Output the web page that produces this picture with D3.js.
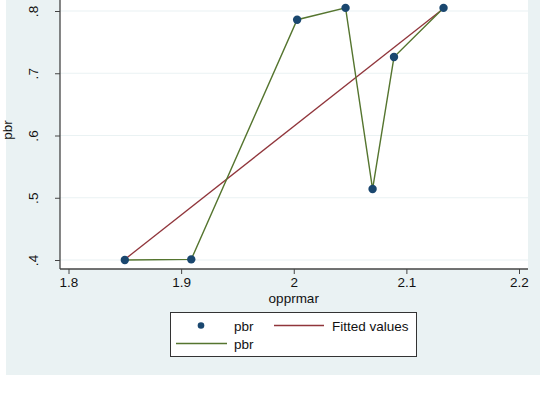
<!DOCTYPE html>
<html><head><meta charset="utf-8">
<script src="https://cdn.jsdelivr.net/npm/d3@7/dist/d3.min.js"></script>
<style>body{margin:0;background:#fff}svg{display:block}text{font-family:"Liberation Sans",Arial,sans-serif}</style>
</head><body>
<svg id="c" width="540" height="401"></svg>
<script>
const oppr = [1.850, 1.909, 2.003, 2.046, 2.070, 2.089, 2.133];
const pbr  = [0.400, 0.401, 0.786, 0.805, 0.514, 0.726, 0.805];
const fitX = [1.850, 2.133];
const fitY = [0.401, 0.804];
const xTicks = [1.8, 1.9, 2.0, 2.1, 2.2];
const xTickLabels = ["1.8", "1.9", "2", "2.1", "2.2"];
const yTicks = [0.4, 0.5, 0.6, 0.7, 0.8];
const yTickLabels = [".4", ".5", ".6", ".7", ".8"];
const legendLabels = ["pbr", "Fitted values", "pbr"];

const svg = d3.select("#c");
const bg = "#eaf2f3", navy = "#1a476f", red = "#90353b", green = "#55752f";
svg.append("rect").attr("x", 6).attr("y", 0).attr("width", 534).attr("height", 375).attr("fill", bg);

const L = 60, R = 528, T = 0, B = 269;
svg.append("rect").attr("x", L).attr("y", T).attr("width", R - L).attr("height", B - T).attr("fill", "#fff");

const x = d3.scaleLinear().domain([1.8, 2.2]).range([68.5, 519]);
const y = d3.scaleLinear().domain([0.4, 0.8]).range([260, 11]);

// grid
svg.append("g").selectAll("line").data(yTicks).join("line")
  .attr("x1", L).attr("x2", R).attr("y1", d => y(d)).attr("y2", d => y(d))
  .attr("stroke", bg).attr("stroke-width", 1.2);

// axes
const xa = svg.append("g").attr("transform", `translate(0,${B})`)
  .call(d3.axisBottom(x).tickValues(xTicks).tickFormat((d, i) => xTickLabels[i]).tickSize(5).tickSizeOuter(0).tickPadding(3));
xa.select(".domain").attr("d", `M${L},0H${R}`).attr("stroke", "#444").attr("stroke-width", 1.3);
xa.selectAll(".tick line").attr("stroke", "#444");
xa.selectAll("text").attr("font-size", 13.5).attr("fill", "#111").attr("font-family", "Liberation Sans, Arial, sans-serif");

const ya = svg.append("g").attr("transform", `translate(${L},0)`)
  .call(d3.axisLeft(y).tickValues(yTicks).tickFormat((d, i) => yTickLabels[i]).tickSize(5).tickSizeOuter(0));
ya.select(".domain").attr("d", `M0,${T}V${B}`).attr("stroke", "#444").attr("stroke-width", 1.3);
ya.selectAll(".tick line").attr("stroke", "#444");
ya.selectAll(".tick text").attr("font-size", 13.5).attr("fill", "#111")
  .attr("font-family", "Liberation Sans, Arial, sans-serif")
  .attr("x", 0).attr("dy", 0).attr("text-anchor", "middle")
  .attr("transform", "translate(-26,0) rotate(-90)").attr("dominant-baseline", "middle");

svg.append("text").attr("x", x(2.0)).attr("y", 303).attr("text-anchor", "middle")
  .attr("font-size", 13.5).attr("fill", "#111").text("opprmar");
svg.append("text").attr("transform", "translate(12,130) rotate(-90)").attr("text-anchor", "middle")
  .attr("font-size", 13.5).attr("fill", "#111").text("pbr");

// fitted line
svg.append("path").datum(fitX.map((d, i) => [d, fitY[i]]))
  .attr("d", d3.line().x(d => x(d[0])).y(d => y(d[1])))
  .attr("fill", "none").attr("stroke", red).attr("stroke-width", 1.3);
// connected line
svg.append("path").datum(oppr.map((d, i) => [d, pbr[i]]))
  .attr("d", d3.line().x(d => x(d[0])).y(d => y(d[1])))
  .attr("fill", "none").attr("stroke", green).attr("stroke-width", 1.4);
// points
svg.append("g").selectAll("circle").data(oppr.map((d, i) => [d, pbr[i]])).join("circle")
  .attr("cx", d => x(d[0])).attr("cy", d => y(d[1])).attr("r", 4.2).attr("fill", navy);

// legend
const lg = svg.append("g");
lg.append("rect").attr("x", 170.5).attr("y", 312.5).attr("width", 246).attr("height", 44)
  .attr("fill", "#fff").attr("stroke", "#333").attr("stroke-width", 1);
lg.append("circle").attr("cx", 201).attr("cy", 325.5).attr("r", 3.3).attr("fill", navy);
lg.append("text").attr("x", 234).attr("y", 330.5).attr("font-size", 13.5).attr("fill", "#111").text(legendLabels[0]);
lg.append("line").attr("x1", 274).attr("x2", 324).attr("y1", 325.5).attr("y2", 325.5).attr("stroke", red).attr("stroke-width", 1.3);
lg.append("text").attr("x", 332).attr("y", 330.5).attr("font-size", 13.5).attr("fill", "#111").text(legendLabels[1]);
lg.append("line").attr("x1", 176).attr("x2", 227).attr("y1", 343.5).attr("y2", 343.5).attr("stroke", green).attr("stroke-width", 1.4);
lg.append("text").attr("x", 234).attr("y", 349).attr("font-size", 13.5).attr("fill", "#111").text(legendLabels[2]);
</script>
</body></html>
